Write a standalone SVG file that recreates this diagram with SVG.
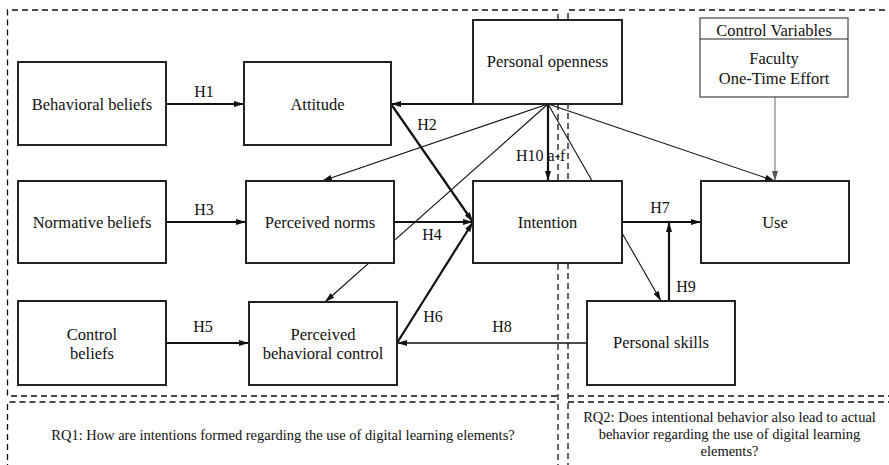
<svg xmlns="http://www.w3.org/2000/svg" width="889" height="465" viewBox="0 0 889 465">
<style>
.bg{fill:#fff}
.reg{fill:none;stroke:#111;stroke-width:1.3;stroke-dasharray:6 4}
.box{fill:#fff;stroke:#222;stroke-width:2}
.cv{fill:#fff;stroke:#444;stroke-width:1.2}
text{font-family:"Liberation Serif","Times New Roman",serif;fill:#111;text-anchor:middle}
.t{font-size:16.5px}
.lb{font-size:16px}
.rq{font-size:14.5px}
.thick{fill:none;stroke:#111;stroke-width:2.2;marker-end:url(#ah)}
.mid{fill:none;stroke:#111;stroke-width:1.6;marker-end:url(#ah)}
.thin{fill:none;stroke:#111;stroke-width:1.1;marker-end:url(#ah)}
.gray{fill:none;stroke:#777;stroke-width:1.1;marker-end:url(#ahg)}
</style>
<defs>
<marker id="ah" markerUnits="userSpaceOnUse" markerWidth="10" markerHeight="6" refX="10" refY="3" orient="auto"><path d="M0,0 L10,3 L0,6 Z" fill="#111"/></marker>
<marker id="ahg" markerUnits="userSpaceOnUse" markerWidth="10" markerHeight="6" refX="10" refY="3" orient="auto"><path d="M0,0 L10,3 L0,6 Z" fill="#555"/></marker>
</defs>
<rect class="bg" x="0" y="0" width="889" height="465"/>
<g id="regions">
<path class="reg" d="M558,470 L558,10 L7.5,10 L7.5,396 L558,396"/>
<path class="reg" d="M895,10 L568,10 L568,470 M568,396 L895,396"/>
<path class="reg" d="M7.5,470 L7.5,402 L558,402 M568,402 L895,402"/>
</g>
<g id="connectors">
<path class="thick" d="M166,104 L244,104"/>
<path class="thick" d="M166,222 L246,222"/>
<path class="thick" d="M166,343 L249,343"/>
<path class="thick" d="M548,104 L391,104"/>
<path class="thick" d="M391,104 L473,222"/>
<path class="thick" d="M394,222 L473,222"/>
<path class="thick" d="M397,343 L473,222"/>
<path class="mid" d="M587,343 L397,343"/>
<path class="thick" d="M622,222 L701,222"/>
<path class="thick" d="M669,301 L669,222"/>
<path class="thick" d="M548,104 L548,181"/>
<path class="thin" d="M548,104 L322,181"/>
<path class="thin" d="M548,104 L325,302"/>
<path class="thin" d="M548,104 L661,301"/>
<path class="thin" d="M548,104 L775,181"/>
<path class="gray" d="M775,97 L775,181"/>
<text class="lb" x="204" y="97">H1</text>
<text class="lb" x="427" y="130">H2</text>
<text class="lb" x="204" y="215">H3</text>
<text class="lb" x="432" y="240">H4</text>
<text class="lb" x="203" y="332">H5</text>
<text class="lb" x="433" y="322">H6</text>
<text class="lb" x="660" y="213">H7</text>
<text class="lb" x="502" y="332">H8</text>
<text class="lb" x="686" y="292">H9</text>
<text class="lb" x="516" y="161" style="text-anchor:start">H10 a-f</text>
</g>
<g id="behavioral-beliefs"><rect class="box" x="18" y="62" width="148" height="83"/><text class="t" x="92" y="110">Behavioral beliefs</text></g>
<g id="attitude"><rect class="box" x="244" y="62" width="147" height="83"/><text class="t" x="317.5" y="110">Attitude</text></g>
<g id="normative-beliefs"><rect class="box" x="18" y="181" width="148" height="82"/><text class="t" x="92" y="228">Normative beliefs</text></g>
<g id="perceived-norms"><rect class="box" x="246" y="181" width="148" height="82"/><text class="t" x="320" y="228">Perceived norms</text></g>
<g id="control-beliefs"><rect class="box" x="18" y="301" width="148" height="84"/><text class="t" x="92" y="340">Control</text><text class="t" x="92" y="359">beliefs</text></g>
<g id="perceived-behavioral-control"><rect class="box" x="249" y="302" width="148" height="83"/><text class="t" x="323" y="340">Perceived</text><text class="t" x="323" y="359">behavioral control</text></g>
<g id="personal-openness"><rect class="box" x="473" y="20" width="149" height="84"/><text class="t" x="547.5" y="67">Personal openness</text></g>
<g id="intention"><rect class="box" x="473" y="181" width="149" height="82"/><text class="t" x="547.5" y="228">Intention</text></g>
<g id="use"><rect class="box" x="701" y="181" width="148" height="82"/><text class="t" x="775" y="228">Use</text></g>
<g id="personal-skills"><rect class="box" x="587" y="301" width="148" height="84"/><text class="t" x="661" y="348">Personal skills</text></g>
<g id="control-variables"><rect class="cv" x="700" y="18" width="148" height="79"/><line x1="700" y1="39" x2="848" y2="39" stroke="#222" stroke-width="1.2"/><text class="t" x="774" y="36">Control Variables</text><text class="t" x="774" y="64">Faculty</text><text class="t" x="774" y="84">One-Time Effort</text></g>
<g id="rq1"><text class="rq" x="283" y="440">RQ1: How are intentions formed regarding the use of digital learning elements?</text></g>
<g id="rq2"><text class="rq" x="729.5" y="421.5">RQ2: Does intentional behavior also lead to actual</text><text class="rq" x="729.5" y="438.5">behavior regarding the use of digital learning</text><text class="rq" x="729.5" y="455.5">elements?</text></g>
</svg>
